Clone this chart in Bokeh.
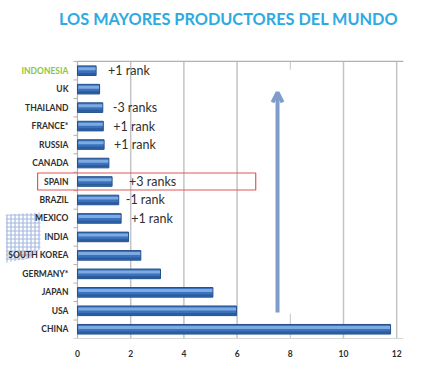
from bokeh.plotting import figure
from bokeh.models import ColumnDataSource, Range1d, FixedTicker, Arrow, OpenHead
from bokeh.core.properties import value
from bokeh.embed import file_html
from bokeh.resources import INLINE

# ---- data (bottom to top) ----
countries = ["CHINA", "USA", "JAPAN", "GERMANY*", "SOUTH KOREA", "INDIA", "MEXICO",
             "BRAZIL", "SPAIN", "CANADA", "RUSSIA", "FRANCE*", "THAILAND", "UK", "INDONESIA"]
production = [11.77, 5.98, 5.09, 3.12, 2.38, 1.92, 1.64, 1.55, 1.30, 1.18, 1.00, 0.97, 0.95, 0.83, 0.70]
rank_change = ["", "", "", "", "", "", "+1 rank", "-1 rank", "+3 ranks", "", "+1 rank",
               "+1 rank", "-3 ranks", "", "+1 rank"]
x_ticks = [0, 2, 4, 6, 8, 10, 12]
grid_ticks = [2, 4, 6, 10, 12]
title_text = "LOS MAYORES PRODUCTORES DEL MUNDO"
highlight = "SPAIN"

n = len(countries)
ypos = [i + 0.5 for i in range(n)]
label_colors = ["#8cc63f" if c == "INDONESIA" else "#2e2e2e" for c in countries]
note_offsets = [12 if c == "INDONESIA" else (17 if c == highlight else (7 if c == "BRAZIL" else 10))
                for c in countries]

src = ColumnDataSource(dict(cat=countries, y=ypos, val=production, note=rank_change,
                            lcol=label_colors, noff=note_offsets))

x_min, x_max = -2.895, 12.256
y_max = 18.30

p = figure(width=432, height=370, output_backend="svg", toolbar_location=None,
           x_range=Range1d(x_min, x_max), y_range=Range1d(0, y_max),
           min_border_left=0, min_border_right=29, min_border_top=0, min_border_bottom=32)
p.outline_line_color = None
p.grid.visible = False
p.yaxis.visible = False
p.background_fill_color = "white"

# x axis
xa = p.xaxis[0]
xa.ticker = FixedTicker(ticks=x_ticks)
xa.axis_line_color = None
xa.major_tick_line_color = None
xa.minor_tick_line_color = None
xa.major_label_text_font = "Lato"
xa.major_label_text_font_style = "bold"
xa.major_label_text_font_size = "8.5px"
xa.major_label_text_color = "#2e2e2e"
xa.major_label_standoff = 5

# decoration (checkered patch at the left)
p.patch(x=[x_min + 0.2, -1.39, -1.39, -1.77, x_min + 0.2], y=[6.72, 6.82, 4.87, 4.33, 4.11],
        fill_color=None, line_color=None, hatch_pattern="+", hatch_color="#a5badf",
        hatch_scale=4, hatch_weight=1.2)

# gridlines
p.segment(x0=grid_ticks, y0=[0] * len(grid_ticks), x1=grid_ticks, y1=[n] * len(grid_ticks),
          line_color="#c4c4c4", line_width=1.5)
p.segment(x0=[8, 8], y0=[0, n - 0.45], x1=[8, 8], y1=[1.35, n], line_color="#c4c4c4", line_width=1)
# frame lines
p.segment(x0=[0, 0, 0], y0=[0, n, 0], x1=[x_max, x_max, 0], y1=[0, n, n],
          line_color="#b0b0b0", line_width=1.2)
# y tick marks at category boundaries
bnd = list(range(n + 1))
p.segment(x0=[-0.15] * len(bnd), y0=bnd, x1=[0] * len(bnd), y1=bnd, line_color="#b0b0b0")

# bars (layered for a gradient look)
p.hbar(y="y", left=0, right="val", height=0.52, source=src,
       fill_color="#3a72bd", line_color="#244f8c", line_width=1)
p.hbar(y=[v + 0.1 for v in ypos], left=0.03, right=[v - 0.02 for v in production], height=0.16,
       fill_color="#7eaae2", line_color=None)
p.hbar(y=[v - 0.17 for v in ypos], left=0.03, right=[v - 0.02 for v in production], height=0.1,
       fill_color="#2a5a9c", line_color=None)

# category labels
p.text(x=-0.34, y="y", text="cat", source=src, text_align="right", text_baseline="middle",
       text_font=value("Lato"), text_font_style="bold", text_font_size="8.5px", text_color="lcol")

# rank notes
p.text(x="val", y="y", text="note", source=src, x_offset="noff", text_align="left",
       text_baseline="middle", text_font=value("Lato"), text_font_size="12.5px", text_color="#303030")

# highlight box around SPAIN
hy = ypos[countries.index(highlight)]
p.rect(x=[2.6], y=[hy], width=[8.2], height=[0.92], fill_color=None,
       line_color="#e0585a", line_width=1.2)

# arrow
p.add_layout(Arrow(x_start=7.52, y_start=1.41, x_end=7.52, y_end=13.32,
                   line_color="#7f9dca", line_width=4,
                   end=OpenHead(size=10, line_color="#7f9dca", line_width=4)))

# title
p.text(x=[5.68], y=[17.33], text=[title_text], text_align="center", text_baseline="middle",
       text_font=value("Lato"), text_font_style="bold", text_font_size="16.3px",
       text_color="#2eaae2")

open("out.html", "w").write(file_html(p, INLINE))
